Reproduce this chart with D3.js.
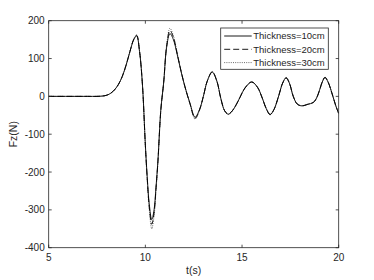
<!DOCTYPE html>
<html>
<head>
<meta charset="utf-8">
<script src="https://cdnjs.cloudflare.com/ajax/libs/d3/7.8.5/d3.min.js"></script>
<style>
  body { margin: 0; background: #fff; }
  text { font-family: "Liberation Sans", Arial, sans-serif; fill: #262626; }
</style>
</head>
<body>
<div id="chart"></div>
<script>
var width = 374,
    height = 280,
    marginLeft = 48.7,
    marginRight = 35.3,
    marginTop = 20.7,
    marginBottom = 32.3;

// time axis (s)
var times = [5, 6, 7, 7.5, 7.8, 8.0, 8.2, 8.4, 8.6, 8.8, 9.0, 9.2, 9.4, 9.55, 9.7, 9.85,
    10.0, 10.1, 10.2, 10.33, 10.45, 10.55, 10.65, 10.8, 10.95, 11.1, 11.27, 11.45, 11.65,
    11.85, 12.05, 12.3, 12.57, 12.8, 13.0, 13.2, 13.46, 13.7, 13.9, 14.1, 14.29, 14.5, 14.7,
    14.9, 15.15, 15.5, 15.8, 16.05, 16.25, 16.45, 16.65, 16.9, 17.1, 17.28, 17.45, 17.65,
    17.85, 18.09, 18.4, 18.69, 18.85, 19.0, 19.15, 19.29, 19.45, 19.7, 19.85, 20];

var fz10 = [0, 0, 0, 0, 1, 3, 8, 17, 31, 52, 82, 118, 150, 160, 118, 30,
    -128, -217, -284, -326, -300, -240, -170, -35, 38, 130, 166, 150, 110,
    65, 25, -17, -55, -35, 0, 40, 64, 40, -5, -38, -47, -38, -22,
    -2, 22, 38, 24, -5, -32, -48, -35, 2, 35, 49, 35, 0,
    -20, -25, -21, -16, -5, 15, 38, 50, 38, 0, -25, -45];

var fz20 = [0, 0, 0, 0, 1, 3, 8, 17, 31, 52, 82, 118, 151, 161, 119, 30,
    -130, -220, -292, -338, -308, -244, -172, -36, 38, 132, 174, 156, 112,
    66, 25, -18, -58, -36, 0, 40, 65, 40, -5, -38, -47, -38, -22,
    -2, 22, 38, 24, -5, -32, -48, -35, 2, 35, 49, 35, 0,
    -20, -25, -21, -16, -5, 15, 38, 50, 38, 0, -25, -45];

var fz30 = [0, 0, 0, 0, 1, 3, 8, 17, 31, 52, 82, 119, 152, 163, 120, 30,
    -132, -224, -298, -350, -316, -248, -174, -37, 39, 135, 180, 160, 114,
    66, 24, -19, -60, -37, 0, 41, 66, 40, -5, -38, -48, -38, -22,
    -2, 22, 38, 24, -5, -32, -49, -35, 2, 35, 50, 35, 0,
    -20, -25, -21, -16, -5, 15, 38, 51, 38, 0, -25, -45];

var seriesNames = ["Thickness=10cm", "Thickness=20cm", "Thickness=30cm"];
var xTicks = [5, 10, 15, 20];
var yTicks = [-400, -300, -200, -100, 0, 100, 200];

var series = [
    {name: seriesNames[0], values: fz10, dash: null, color: "#000", width: 0.9},
    {name: seriesNames[1], values: fz20, dash: "6,3", color: "#000", width: 0.9},
    {name: seriesNames[2], values: fz30, dash: "1,1.2", color: "#444", width: 0.8}
];

var svg = d3.select("#chart").append("svg")
    .attr("width", width)
    .attr("height", height);

var x = d3.scaleLinear().domain([5, 20]).range([marginLeft, width - marginRight]);
var y = d3.scaleLinear().domain([-400, 200]).range([height - marginBottom, marginTop]);

var tickLen = 3;
var axisColor = "#262626";

// curves
var line = d3.line()
    .x(function(d) { return x(d[0]); })
    .y(function(d) { return y(d[1]); })
    .curve(d3.curveCatmullRom.alpha(0.5));

svg.append("defs").append("clipPath").attr("id", "clip")
    .append("rect")
    .attr("x", x(5)).attr("y", y(200))
    .attr("width", x(20) - x(5)).attr("height", y(-400) - y(200));

svg.append("g").attr("clip-path", "url(#clip)")
    .selectAll("path.curve")
    .data(series.slice().reverse())
    .enter().append("path")
    .attr("class", "curve")
    .attr("fill", "none")
    .attr("stroke", function(d) { return d.color; })
    .attr("stroke-width", function(d) { return d.width; })
    .attr("stroke-dasharray", function(d) { return d.dash; })
    .attr("d", function(d) { return line(times.map(function(t, i) { return [t, d.values[i]]; })); });

// box with inward ticks on all sides
svg.append("rect")
    .attr("x", x(5)).attr("y", y(200))
    .attr("width", x(20) - x(5)).attr("height", y(-400) - y(200))
    .attr("fill", "none")
    .attr("stroke", axisColor)
    .attr("stroke-width", 0.8);

var ticksG = svg.append("g").attr("stroke", axisColor).attr("stroke-width", 0.8);
xTicks.forEach(function(t) {
    ticksG.append("line").attr("x1", x(t)).attr("x2", x(t)).attr("y1", y(-400)).attr("y2", y(-400) - tickLen);
    ticksG.append("line").attr("x1", x(t)).attr("x2", x(t)).attr("y1", y(200)).attr("y2", y(200) + tickLen);
});
yTicks.forEach(function(v) {
    ticksG.append("line").attr("x1", x(5)).attr("x2", x(5) + tickLen).attr("y1", y(v)).attr("y2", y(v));
    ticksG.append("line").attr("x1", x(20)).attr("x2", x(20) - tickLen).attr("y1", y(v)).attr("y2", y(v));
});

svg.append("g").selectAll("text")
    .data(xTicks)
    .enter().append("text")
    .attr("x", function(d) { return x(d); })
    .attr("y", y(-400) + 13)
    .attr("text-anchor", "middle")
    .style("font-size", "10px")
    .text(function(d) { return d; });

svg.append("g").selectAll("text")
    .data(yTicks)
    .enter().append("text")
    .attr("x", x(5) - 4)
    .attr("y", function(d) { return y(d) + 3.5; })
    .attr("text-anchor", "end")
    .style("font-size", "10px")
    .text(function(d) { return d; });

// axis labels
svg.append("text")
    .attr("x", (x(5) + x(20)) / 2)
    .attr("y", 274)
    .attr("text-anchor", "middle")
    .style("font-size", "10.5px")
    .text("t(s)");

svg.append("text")
    .attr("transform", "translate(17," + (y(200) + y(-400)) / 2 + ") rotate(-90)")
    .attr("text-anchor", "middle")
    .style("font-size", "10.5px")
    .text("Fz(N)");

// legend
var legend = svg.append("g").attr("transform", "translate(220.7,28)");
legend.append("rect")
    .attr("width", 107.6)
    .attr("height", 41.3)
    .attr("fill", "#fff")
    .attr("stroke", axisColor)
    .attr("stroke-width", 0.8);

var legendItem = legend.selectAll(".legendItem")
    .data(series)
    .enter().append("g")
    .attr("class", "legendItem")
    .attr("transform", function(d, i) { return "translate(0," + (8 + i * 13.3) + ")"; });

legendItem.append("line")
    .attr("x1", 3.5).attr("x2", 31)
    .attr("stroke", function(d) { return d.color; })
    .attr("stroke-width", function(d) { return d.width; })
    .attr("stroke-dasharray", function(d) { return d.dash; });

legendItem.append("text")
    .attr("x", 32.5)
    .attr("y", 3.4)
    .style("font-size", "9.5px")
    .text(function(d) { return d.name; });
</script>
</body>
</html>
